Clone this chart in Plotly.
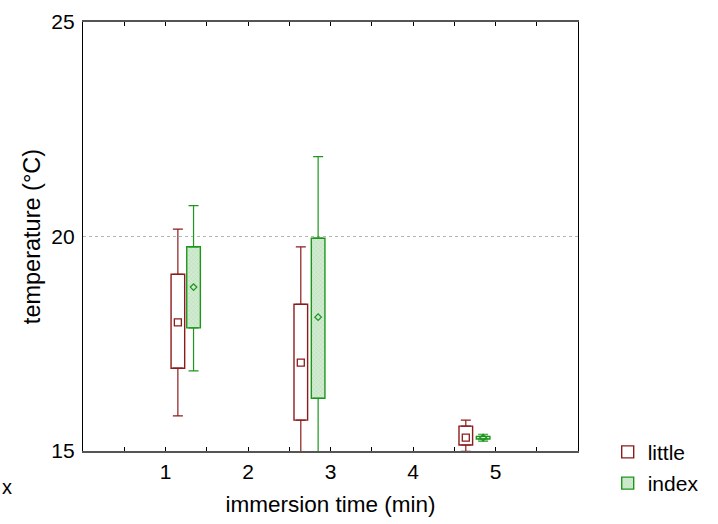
import plotly.graph_objects as go

# ---- data ----
little_x = [1.15, 2.64, 4.64]
little_mean = [18.00, 17.06, 15.31]
little_q1 = [16.93, 15.72, 15.14]
little_q3 = [19.12, 18.42, 15.58]
little_low = [15.82, 14.00, 14.99]
little_high = [20.17, 19.76, 15.72]

index_x = [1.34, 2.85, 4.85]
index_mean = [18.82, 18.12, 15.31]
index_q1 = [17.87, 16.23, 15.28]
index_q3 = [19.76, 19.96, 15.34]
index_low = [16.87, 14.00, 15.23]
index_high = [20.72, 21.86, 15.39]

x_ticks = [1, 2, 3, 4, 5]
x_ticktext = ["1", "2", "3", "4", "5"]
y_ticks = [15, 20, 25]

RED = "rgb(140,28,28)"
GREEN = "rgb(30,150,30)"
FONT = "Liberation Sans, Arial, sans-serif"

fig = go.Figure()

def add_series(name, xs, mean, q1, q3, low, high, color, fill, pattern, msym, msize):
    # box
    bar_kwargs = dict(
        x=xs, y=[b - a for a, b in zip(q1, q3)], base=q1, width=0.165,
        name=name, legendgroup=name,
        marker=dict(color=fill, line=dict(color=color, width=1.4)),
        hoverinfo="skip",
    )
    if pattern:
        bar_kwargs["marker"]["pattern"] = dict(shape="x", fgcolor="rgb(150,205,150)",
                                               bgcolor=fill, size=3, solidity=0.3)
    fig.add_trace(go.Bar(**bar_kwargs))
    # upper whisker
    fig.add_trace(go.Scatter(
        x=xs, y=q3, mode="markers", marker=dict(size=1, opacity=0),
        error_y=dict(type="data", symmetric=False,
                     array=[h - t for h, t in zip(high, q3)],
                     arrayminus=[0] * len(xs), color=color, thickness=1.2, width=5),
        showlegend=False, legendgroup=name, hoverinfo="skip"))
    # lower whisker
    fig.add_trace(go.Scatter(
        x=xs, y=q1, mode="markers", marker=dict(size=1, opacity=0),
        error_y=dict(type="data", symmetric=False,
                     array=[0] * len(xs),
                     arrayminus=[b - l for b, l in zip(q1, low)], color=color,
                     thickness=1.2, width=5),
        showlegend=False, legendgroup=name, hoverinfo="skip"))
    # mean marker
    fig.add_trace(go.Scatter(
        x=xs, y=mean, mode="markers",
        marker=dict(symbol=msym, size=msize, color=color, line=dict(color=color, width=1.3)),
        showlegend=False, legendgroup=name, hoverinfo="skip"))

add_series("little", little_x, little_mean, little_q1, little_q3, little_low, little_high,
           RED, "white", False, "square-open", 7)
add_series("index", index_x, index_mean, index_q1, index_q3, index_low, index_high,
           GREEN, "rgb(210,235,210)", True, "diamond-open", 5)

fig.add_annotation(text="x", xref="paper", yref="paper", x=-0.1535, y=-0.084,
                   showarrow=False, xanchor="center", yanchor="middle",
                   font=dict(family=FONT, size=20, color="black"))

fig.update_layout(
    width=718, height=524,
    margin=dict(l=83, r=140, t=22, b=73),
    paper_bgcolor="white", plot_bgcolor="white",
    barmode="overlay",
    font=dict(family=FONT, size=21, color="black"),
    legend=dict(x=1.06, xanchor="left", y=0.045, yanchor="top",
                font=dict(size=21), tracegroupgap=1, bgcolor="rgba(0,0,0,0)"),
    xaxis=dict(
        range=[0, 6], tickmode="array", tickvals=x_ticks, ticktext=x_ticktext,
        ticks="inside", ticklen=4, tickcolor="black", tickwidth=1,
        minor=dict(dtick=0.5, tick0=0, ticks="inside", ticklen=4, tickcolor="black"),
        showline=True, linecolor="#555", linewidth=1.5, mirror="ticks",
        showgrid=False, zeroline=False, ticklabelstandoff=1,
        title=dict(text="immersion time (min)", font=dict(size=22.5), standoff=14),
        automargin=False,
    ),
    yaxis=dict(
        range=[15, 25], tickmode="array", tickvals=y_ticks,
        ticks="", showline=True, linecolor="black", linewidth=1.3, mirror=True,
        showgrid=True, gridcolor="#b5b5b5", griddash="dot", gridwidth=1,
        zeroline=False, ticklabelstandoff=3,
        title=dict(text="temperature (°C)", font=dict(size=23.5), standoff=4),
        automargin=False,
    ),
)

fig.write_html("out.html", config={"displayModeBar": False},
               post_script="document.body.style.margin='0px';")
